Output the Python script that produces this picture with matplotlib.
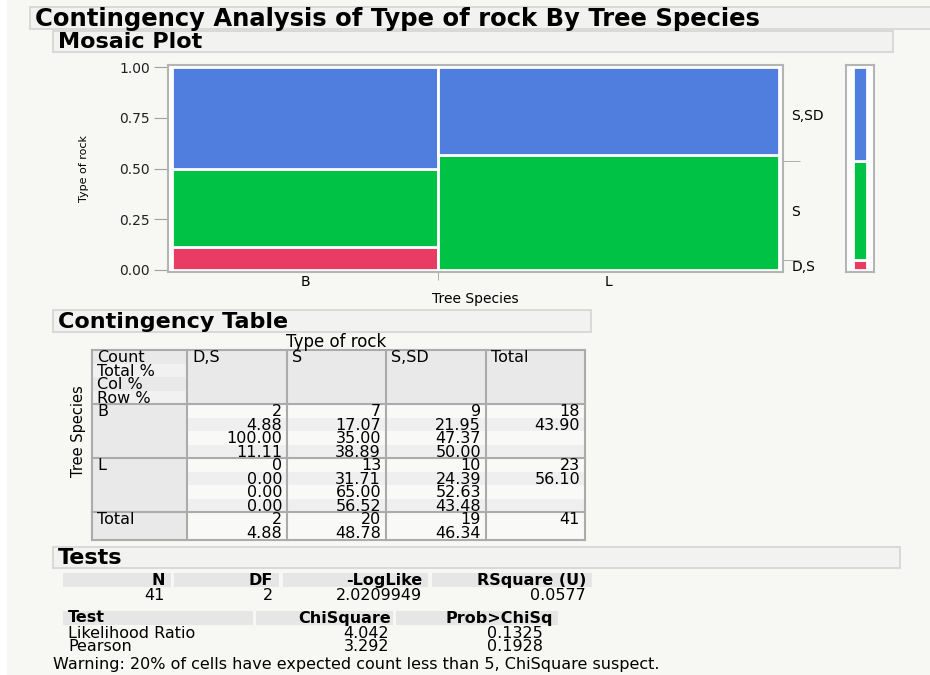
import numpy as np
import matplotlib
matplotlib.use('Agg')
import matplotlib.pyplot as plt
import matplotlib.patches as patches

# data
species = ['B', 'L']
rock_types = ['D,S', 'S', 'S,SD']
counts = np.array([[2, 7, 9],
                   [0, 13, 10]])
rock_colors = ['#e83c64', '#00c346', '#507ede']

stat_names = ['N', 'DF', '-LogLike', 'RSquare (U)']
stat_values = ['41', '2', '2.0209949', '0.0577']
chi_tests = ['Likelihood Ratio', 'Pearson']
chi_square = [4.042, 3.292]
prob_chisq = [0.1325, 0.1928]
warning = 'Warning: 20% of cells have expected count less than 5, ChiSquare suspect.'

W, H = 930, 675
BG = '#f7f7f4'
GRID = '#ababab'
plt.rcParams['font.family'] = ['DejaVu Sans']

fig = plt.figure(figsize=(W / 100, H / 100), dpi=100, facecolor=BG)

# page layer in pixel coordinates (y down)
page = fig.add_axes([0, 0, 1, 1], zorder=0)
page.set_xlim(0, W)
page.set_ylim(H, 0)
page.axis('off')
page.add_patch(patches.Rectangle((0, 0), 7, H, facecolor='white', edgecolor='none'))


def px_axes(x0, y0, x1, y1):
    return fig.add_axes([x0 / W, 1 - y1 / H, (x1 - x0) / W, (y1 - y0) / H], zorder=2)


def header_box(x0, y0, x1, y1, text, size):
    page.add_patch(patches.Rectangle((x0, y0), x1 - x0, y1 - y0, facecolor='#f2f2f0',
                                     edgecolor='#d4d4d4', lw=1.2))
    page.text(x0 + 5, (y0 + y1) / 2 + 1, text, fontsize=size, fontweight='bold',
              va='center', ha='left', color='black')


header_box(30, 7, 935, 29, 'Contingency Analysis of Type of rock By Tree Species', 17.5)
header_box(53, 31, 893, 52, 'Mosaic Plot', 16)
header_box(53, 310, 591, 332, 'Contingency Table', 16)
header_box(53, 547, 900, 568, 'Tests', 16)

# ---- mosaic plot ----
n = counts.sum()
row_tot = counts.sum(axis=1)
col_tot = counts.sum(axis=0)
widths = row_tot / n
lefts = np.concatenate([[0], np.cumsum(widths)[:-1]])
props = counts / row_tot[:, None]
bottoms = np.cumsum(props, axis=1) - props

ax = px_axes(168, 65, 783, 272)
ax.set_facecolor('white')
for j in range(len(rock_types)):
    ax.bar(lefts, props[:, j], width=widths, bottom=bottoms[:, j], align='edge',
           color=rock_colors[j], edgecolor='white', linewidth=2)
ax.set_xlim(-0.006, 1.006)
ax.set_ylim(-0.01, 1.01)
for s in ax.spines.values():
    s.set_color('#b4b4b4')
    s.set_linewidth(1.5)
ax.set_yticks([0, 0.25, 0.5, 0.75, 1.0], ['0.00', '0.25', '0.50', '0.75', '1.00'])
ax.tick_params(axis='y', length=10, color='#a0a0a0', labelsize=10, labelcolor='#222222', pad=3)
ax.set_xticks(lefts + widths / 2, species)
ax.set_xticks(lefts[1:], minor=True)
ax.tick_params(axis='x', which='major', length=0, labelsize=10, pad=2)
ax.tick_params(axis='x', which='minor', length=6, color='#a0a0a0')
ax.set_xlabel('Tree Species', fontsize=10, labelpad=2)
ax.set_ylabel('Type of rock', fontsize=8, labelpad=22)

marg = col_tot / n
cum = np.cumsum(marg)
rt = ax.twinx()
rt.set_ylim(ax.get_ylim())
for s in rt.spines.values():
    s.set_visible(False)
rt.set_yticks(cum - marg / 2, rock_types)
rt.set_yticks(cum[:-1], minor=True)
rt.tick_params(axis='y', which='major', length=0, labelsize=10, pad=6)
rt.tick_params(axis='y', which='minor', length=12, color='#a0a0a0')

mx = px_axes(846, 65, 874, 272)
mx.set_facecolor('white')
mx.bar(np.zeros(3) + 0.5, marg, width=0.5, bottom=cum - marg, color=rock_colors,
       edgecolor='white', linewidth=2)
mx.set_xlim(0, 1)
mx.set_ylim(-0.01, 1.01)
mx.set_xticks([])
mx.set_yticks([])
for s in mx.spines.values():
    s.set_color('#b4b4b4')
    s.set_linewidth(1.5)

# ---- contingency table ----
xs = [92, 187, 287, 386, 486, 585]
ys = [350, 404, 458, 512, 540]
line_h = 13.6
tsize = 11.5

page.text((xs[1] + xs[4]) / 2, 342, 'Type of rock', fontsize=12, ha='center', va='center')
page.text(78, (ys[1] + ys[3]) / 2 - 27, 'Tree Species', fontsize=10.5, rotation=90,
          ha='center', va='center')

# shading
page.add_patch(patches.Rectangle((xs[0], ys[0]), xs[-1] - xs[0], ys[-1] - ys[0],
                                 facecolor='#f9f9f8', edgecolor='none'))
page.add_patch(patches.Rectangle((xs[0], ys[0]), xs[-1] - xs[0], ys[1] - ys[0],
                                 facecolor='#e9e9e9', edgecolor='none'))
page.add_patch(patches.Rectangle((xs[0], ys[0]), xs[1] - xs[0], ys[-1] - ys[0],
                                 facecolor='#e9e9e9', edgecolor='none'))
for r in range(2):
    for k in (1, 3):
        page.add_patch(patches.Rectangle((xs[1], ys[r + 1] + k * line_h), xs[5] - xs[1], line_h,
                                         facecolor='#efefef', edgecolor='none'))
for k in (1, 3):
    page.add_patch(patches.Rectangle((xs[0], ys[0] + k * line_h), xs[1] - xs[0], line_h,
                                     facecolor='#f1f1f1', edgecolor='none'))

for x in xs:
    page.plot([x, x], [ys[0], ys[-1]], color=GRID, lw=1.5)
for y in ys:
    page.plot([xs[0], xs[-1]], [y, y], color=GRID, lw=1.5)


def cell_line(col, top, k, txt, align='right'):
    y = top + 7.5 + k * line_h
    if align == 'right':
        page.text(xs[col + 1] - 5, y, txt, fontsize=tsize, ha='right', va='center')
    else:
        page.text(xs[col] + 5, y, txt, fontsize=tsize, ha='left', va='center')


for k, lab in enumerate(['Count', 'Total %', 'Col %', 'Row %']):
    cell_line(0, ys[0], k, lab, 'left')
for j, lab in enumerate(rock_types + ['Total']):
    cell_line(j + 1, ys[0], 0, lab, 'left')

total_pct = counts / n * 100
col_pct = counts / col_tot[None, :] * 100
row_pct = props * 100
for i, sp in enumerate(species):
    top = ys[i + 1]
    cell_line(0, top, 0, sp, 'left')
    for j in range(len(rock_types)):
        cell_line(j + 1, top, 0, str(counts[i, j]))
        cell_line(j + 1, top, 1, f'{total_pct[i, j]:.2f}')
        cell_line(j + 1, top, 2, f'{col_pct[i, j]:.2f}')
        cell_line(j + 1, top, 3, f'{row_pct[i, j]:.2f}')
    cell_line(4, top, 0, str(row_tot[i]))
    cell_line(4, top, 1, f'{row_tot[i] / n * 100:.2f}')

cell_line(0, ys[3], 0, 'Total', 'left')
for j in range(len(rock_types)):
    cell_line(j + 1, ys[3], 0, str(col_tot[j]))
    cell_line(j + 1, ys[3], 1, f'{col_tot[j] / n * 100:.2f}')
cell_line(4, ys[3], 0, str(n))

# ---- tests ----
ssize = 11.5
stat_cells = [(63, 171), (174, 279), (283, 428), (432, 592)]
for (x0, x1), name, val in zip(stat_cells, stat_names, stat_values):
    page.add_patch(patches.Rectangle((x0, 573), x1 - x0, 14, facecolor='#e6e6e6', edgecolor='none'))
    page.text(x1 - 6, 580.5, name, fontsize=ssize, fontweight='bold', ha='right', va='center')
    page.text(x1 - 6, 595, val, fontsize=ssize, ha='right', va='center')

chi_cells = [(63, 253), (256, 393), (396, 558)]
for (x0, x1) in chi_cells:
    page.add_patch(patches.Rectangle((x0, 611), x1 - x0, 13.5, facecolor='#e6e6e6', edgecolor='none'))
page.text(68, 618, 'Test', fontsize=ssize, fontweight='bold', ha='left', va='center')
page.text(391, 618, 'ChiSquare', fontsize=ssize, fontweight='bold', ha='right', va='center')
page.text(553, 618, 'Prob>ChiSq', fontsize=ssize, fontweight='bold', ha='right', va='center')
for i, name in enumerate(chi_tests):
    y = 633 + i * 13.5
    page.text(68, y, name, fontsize=ssize, ha='left', va='center')
    page.text(389, y, f'{chi_square[i]:.3f}', fontsize=ssize, ha='right', va='center')
    page.text(543, y, f'{prob_chisq[i]:.4f}', fontsize=ssize, ha='right', va='center')

page.text(53, 664, warning, fontsize=ssize, ha='left', va='center')

fig.savefig('out.png', dpi=100, facecolor=BG)
